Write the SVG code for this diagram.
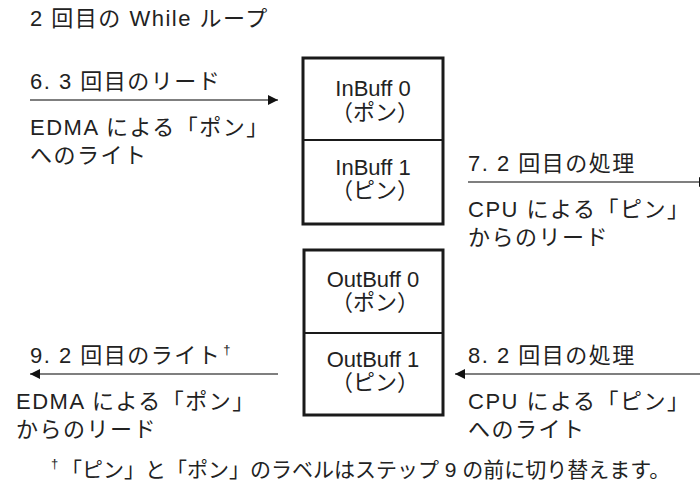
<svg xmlns="http://www.w3.org/2000/svg" width="700" height="495" viewBox="0 0 700 495">
<defs>
<style>
text{font-family:"Liberation Sans","Noto Sans CJK JP",sans-serif;font-size:22px;fill:#222}
.l{letter-spacing:1.5px}
.c{text-anchor:middle}
.fn{font-size:21px}
.box{fill:#fff;stroke:#1a1a1a;stroke-width:3}
.div{stroke:#1a1a1a;stroke-width:2}
.ln{stroke:#555;stroke-width:1.5;fill:none;marker-end:url(#ah)}
.sup{font-size:13px;letter-spacing:0}
</style>
<marker id="ah" markerUnits="userSpaceOnUse" markerWidth="10" markerHeight="10" refX="10" refY="5" orient="auto"><path d="M0,0 L10,5 L0,10 z" fill="#111"/></marker>
</defs>
<rect width="700" height="495" fill="#fff"/>
<text class="l" x="30" y="26">2 回目の While ループ</text>

<g id="connectors">
<path class="ln" d="M30,100 H278"/>
<path class="ln" d="M468,182 H709"/>
<path class="ln" d="M278,374 H30"/>
<path class="ln" d="M700,374 H455"/>
</g>

<g id="inbuff">
<rect class="box" x="303" y="58" width="140" height="166"/>
<line class="div" x1="303" y1="140" x2="443" y2="140"/>
<text class="c" x="373" y="96">InBuff 0</text>
<text class="c" x="375" y="120">（ポン）</text>
<text class="c" x="373" y="175">InBuff 1</text>
<text class="c" x="375" y="198">（ピン）</text>
</g>

<g id="outbuff">
<rect class="box" x="304" y="250" width="139" height="165"/>
<line class="div" x1="304" y1="333" x2="443" y2="333"/>
<text class="c" x="373" y="287">OutBuff 0</text>
<text class="c" x="375" y="310">（ポン）</text>
<text class="c" x="373" y="367">OutBuff 1</text>
<text class="c" x="375" y="390">（ピン）</text>
</g>

<g id="step6">
<text class="l" x="30" y="89">6. 3 回目のリード</text>
<text class="l" x="30" y="135">EDMA による「ポン」</text>
<text class="l" x="30" y="163">へのライト</text>
</g>

<g id="step7">
<text class="l" x="468" y="171">7. 2 回目の処理</text>
<text class="l" x="468" y="217">CPU による「ピン」</text>
<text class="l" x="468" y="245">からのリード</text>
</g>

<g id="step9">
<text class="l" x="30" y="363">9. 2 回目のライト<tspan class="sup" dx="2" dy="-9">†</tspan></text>
<text class="l" x="16" y="409">EDMA による「ポン」</text>
<text class="l" x="16" y="437">からのリード</text>
</g>

<g id="step8">
<text class="l" x="468" y="363">8. 2 回目の処理</text>
<text class="l" x="468" y="409">CPU による「ピン」</text>
<text class="l" x="468" y="437">へのライト</text>
</g>

<g id="footnote">
<text class="sup" x="51" y="468">†</text>
<text class="fn" x="61" y="477">「ピン」と「ポン」のラベルはステップ 9 の前に切り替えます。</text>
</g>
</svg>
